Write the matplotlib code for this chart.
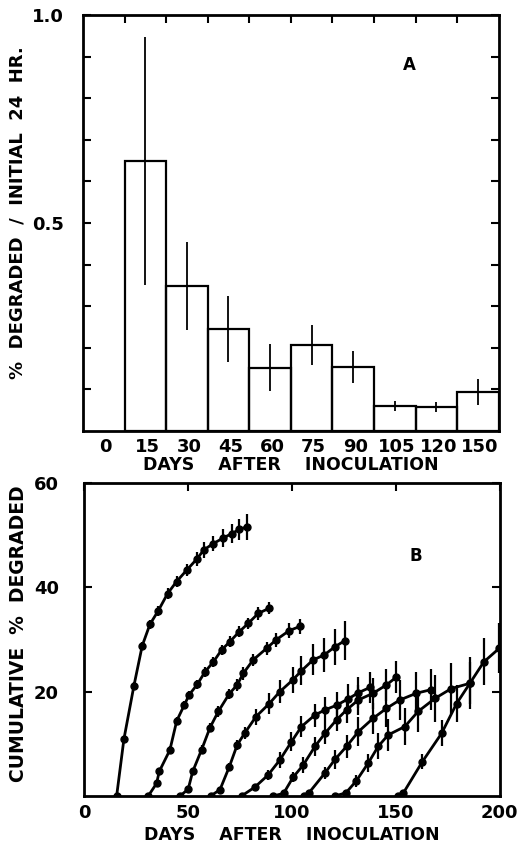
import numpy as np
import matplotlib
matplotlib.use('Agg')
import matplotlib.pyplot as plt

plt.rcParams['font.family'] = ['DejaVu Sans']
plt.rcParams['font.weight'] = 'bold'
plt.rcParams['axes.labelweight'] = 'bold'

# Panel A: degradation in first 24 hr per inoculation day
a_labels = ['0', '15', '30', '45', '60', '75', '90', '105', '120', '150']
a_heights = [0.649, 0.349, 0.245, 0.152, 0.207, 0.154, 0.060, 0.058, 0.094]
a_err = [0.297, 0.105, 0.080, 0.056, 0.048, 0.038, 0.012, 0.012, 0.031]

# Panel B: cumulative % degraded, one curve per inoculation day
b_days = [
    [15.7, 19.2, 24.0, 28.0, 31.7, 35.7, 40.2, 44.5, 49.4, 54.2, 57.7, 62.2, 66.7, 71.0, 74.7, 78.2],
    [30.9, 34.9, 36.2, 41.3, 44.6, 48.2, 50.6, 54.5, 58.2, 62.2, 66.2, 70.2, 74.7, 79.0, 83.8, 89.1],
    [46.2, 50.1, 52.3, 56.6, 60.6, 64.6, 69.9, 73.7, 76.6, 81.4, 87.8, 92.3, 98.7, 103.8],
    [60.9, 65.4, 69.9, 73.7, 77.4, 82.7, 89.1, 94.2, 100.3, 104.6, 110.2, 115.4, 120.7, 125.5],
    [75.8, 82.2, 88.5, 94.2, 99.8, 104.6, 111.0, 115.9, 121.5, 127.0, 132.0, 137.5],
    [91.0, 96.0, 100.6, 105.4, 111.1, 115.9, 121.5, 126.3, 131.9, 139.1, 145.5, 150.3],
    [105.8, 108.0, 115.9, 120.7, 126.3, 131.9, 139.1, 145.5, 151.9, 159.9, 167.1],
    [120.7, 126.0, 131.0, 136.7, 141.5, 146.3, 154.3, 160.7, 168.8, 176.7, 185.6],
    [151.1, 153.5, 162.8, 172.0, 179.2, 185.6, 192.3, 199.7],
]
b_pct = [
    [0, 10.9, 21.1, 28.8, 32.9, 35.5, 38.8, 41.1, 43.3, 45.4, 47.2, 48.4, 49.4, 50.3, 51.1, 51.6],
    [0, 2.4, 4.7, 8.8, 14.4, 17.4, 19.4, 21.4, 23.8, 25.7, 28.0, 29.6, 31.5, 33.1, 35.0, 36.0],
    [0, 1.3, 4.7, 8.9, 13.1, 16.2, 19.6, 21.3, 23.5, 26.1, 28.3, 29.9, 31.7, 32.5],
    [0, 1.2, 5.6, 9.8, 12.1, 15.2, 17.7, 20.0, 22.2, 24.0, 26.1, 27.0, 28.6, 29.8],
    [0, 1.7, 4.0, 6.9, 10.4, 13.3, 15.5, 16.5, 17.4, 18.6, 19.8, 20.8],
    [0, 0.5, 3.6, 5.9, 9.5, 12.0, 14.6, 16.5, 18.4, 19.7, 21.3, 22.8],
    [0, 0.5, 4.4, 7.0, 9.5, 12.3, 14.9, 16.8, 18.4, 19.7, 20.4],
    [0, 0.6, 2.9, 6.3, 9.5, 11.7, 13.3, 16.2, 18.7, 20.6, 21.6],
    [0, 0.5, 6.6, 12.0, 17.7, 21.6, 25.7, 28.3],
]
b_err = [
    [0.3, 0.6, 0.8, 0.8, 0.8, 1.0, 1.0, 1.0, 1.2, 1.3, 1.5, 1.5, 1.7, 1.8, 2.0, 2.5],
    [0.3, 0.5, 0.6, 0.7, 0.8, 0.8, 0.8, 0.9, 0.9, 1.0, 1.0, 1.0, 1.1, 1.1, 1.2, 1.2],
    [0.3, 0.5, 0.6, 0.8, 0.9, 1.0, 1.0, 1.1, 1.2, 1.2, 1.3, 1.4, 1.5, 1.5],
    [0.3, 0.5, 0.8, 1.0, 1.2, 1.5, 2.0, 2.2, 2.5, 2.8, 3.0, 3.2, 3.5, 3.8],
    [0.3, 0.6, 1.0, 1.5, 1.8, 2.0, 2.2, 2.5, 2.6, 2.8, 3.0, 3.0],
    [0.3, 0.6, 1.0, 1.5, 1.8, 2.0, 2.2, 2.5, 2.8, 3.0, 3.0, 3.0],
    [0.3, 0.6, 1.2, 1.8, 2.2, 2.8, 3.0, 3.5, 3.8, 4.0, 4.0],
    [0.3, 0.6, 1.2, 1.8, 2.5, 3.0, 3.5, 4.0, 4.5, 4.8, 5.0],
    [0.3, 0.6, 1.5, 2.5, 3.5, 4.0, 4.5, 4.8],
]

fig = plt.figure(figsize=(5.25, 8.43), dpi=100)

# ---- panel A ----
ax1 = fig.add_axes([0.158, 0.4887, 0.792, 0.4935])
pos = np.arange(1, len(a_heights) + 1)
ax1.bar(pos, a_heights, width=1.0, align='edge', fill=False,
        edgecolor='black', linewidth=1.6)
ax1.errorbar(pos + 0.5, a_heights, yerr=a_err, fmt='none',
             ecolor='black', elinewidth=1.3, capsize=0)
ax1.set_xlim(0, 10)
ax1.set_ylim(0, 1.0)
ax1.set_xticks(np.arange(len(a_labels)) + 0.55)
ax1.set_xticklabels(a_labels)
ax1.set_xticks(np.arange(1, 10), minor=True)
ax1.set_yticks([0.5, 1.0])
ax1.set_yticklabels(['0.5', '1.0'])
ax1.set_yticks(np.arange(0.1, 1.0, 0.1), minor=True)
ax1.tick_params(axis='x', which='major', length=0, pad=5, labelsize=13)
ax1.tick_params(axis='x', which='minor', top=True, bottom=False,
                direction='in', length=6, width=1.5)
ax1.tick_params(axis='y', which='both', left=True, right=True,
                direction='in', length=6, width=1.5, labelsize=13, pad=14)
ax1.set_xlabel('DAYS    AFTER    INOCULATION', fontsize=12.5, labelpad=0)
ax1.set_ylabel('%  DEGRADED  /  INITIAL  24  HR.', fontsize=13)
ax1.yaxis.set_label_coords(-0.135, 0.525)
ax1.text(7.85, 0.88, 'A', fontsize=12, ha='center', va='center')
for s in ax1.spines.values():
    s.set_linewidth(2.0)

# ---- panel B ----
ax2 = fig.add_axes([0.160, 0.0558, 0.792, 0.3712])
for xs, ys, es in zip(b_days, b_pct, b_err):
    ax2.errorbar(xs, ys, yerr=es, fmt='-o', color='black', lw=2.0,
                 ms=5, elinewidth=1.6, capsize=0)
ax2.set_xlim(0, 200)
ax2.set_ylim(0, 60)
ax2.set_xticks([0, 50, 100, 150, 200])
ax2.set_yticks([20, 40, 60])
ax2.tick_params(axis='x', top=True, bottom=False, direction='in',
                length=6, width=1.5, labelsize=13, pad=6)
ax2.tick_params(axis='y', left=True, right=True, direction='in',
                length=6, width=1.5, labelsize=13, pad=18)
ax2.set_xlabel('DAYS    AFTER    INOCULATION', fontsize=12.5, labelpad=3)
ax2.set_ylabel('CUMULATIVE  %  DEGRADED', fontsize=13.5)
ax2.yaxis.set_label_coords(-0.135, 0.52)
ax2.text(159.5, 46, 'B', fontsize=12, ha='center', va='center')
for s in ax2.spines.values():
    s.set_linewidth(2.0)

fig.savefig('out.png', dpi=100)
